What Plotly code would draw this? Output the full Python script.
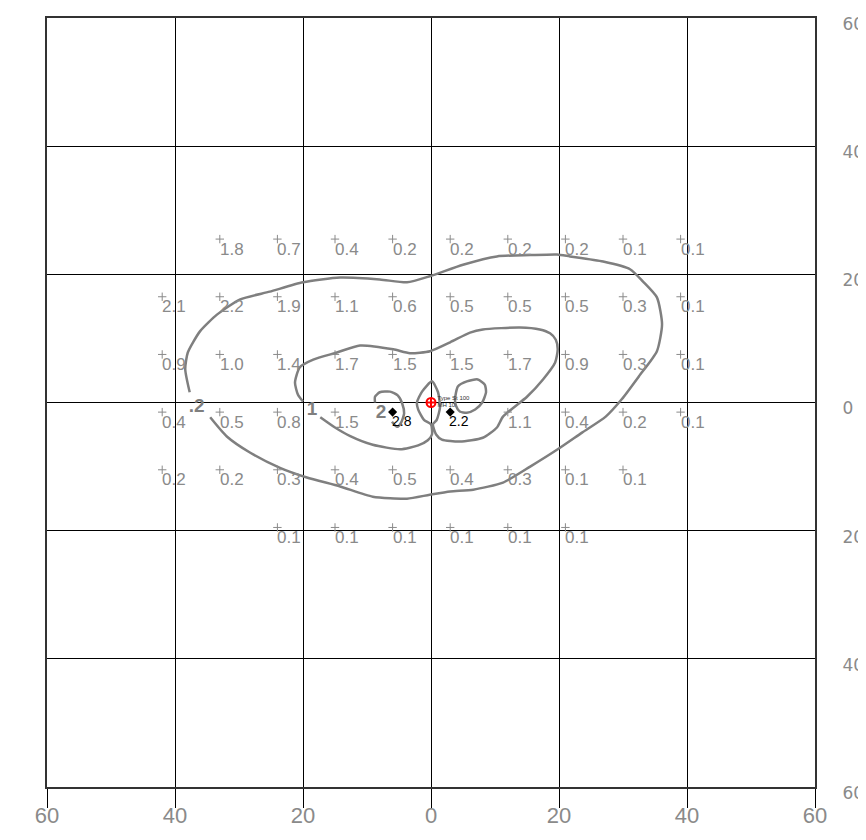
import plotly.graph_objects as go

# ---- grid of sampled values ----
grid_x = [-42, -33, -24, -15, -6, 3, 12, 21, 30, 39]
grid_y = [25.5, 16.5, 7.5, -1.5, -10.5, -19.5]
row_25 = [None, 1.8, 0.7, 0.4, 0.2, 0.2, 0.2, 0.2, 0.1, 0.1]
row_16 = [2.1, 2.2, 1.9, 1.1, 0.6, 0.5, 0.5, 0.5, 0.3, 0.1]
row_7 = [0.9, 1.0, 1.4, 1.7, 1.5, 1.5, 1.7, 0.9, 0.3, 0.1]
row_m1 = [0.4, 0.5, 0.8, 1.5, None, None, 1.1, 0.4, 0.2, 0.1]
row_m10 = [0.2, 0.2, 0.3, 0.4, 0.5, 0.4, 0.3, 0.1, 0.1, None]
row_m19 = [None, None, 0.1, 0.1, 0.1, 0.1, 0.1, 0.1, None, None]
rows = [row_25, row_16, row_7, row_m1, row_m10, row_m19]

# highlighted maxima
peak_x = [-6, 3]
peak_y = [-1.5, -1.5]
peak_vals = [2.8, 2.2]

# source
src_x = [0]
src_y = [0]
src_lines = ["Type St 100", "MH 10"]
src_text_y = [0.6, -0.5]

# ---- contour lines ----
c02_x = [-34.5, -31.9, -28.3, -23.6, -19.4, -14.2, -9.1, -3.75, -0.2, 3.0, 6.6, 11.25, 15.5, 19.8,
         23.6, 27.3, 29.8, 32.5, 35.3, 36.1, 35.3, 33.1, 31.1, 26.9, 21.7, 19.7, 15.5, 10.3, 5.0,
         -0.2, -3.75, -8.0, -14.2, -20.0, -25.2, -29.8, -33.4, -36.1, -38.0, -38.4, -37.7]
c02_y = [-2.3, -5.3, -7.8, -10.2, -11.7, -13.1, -14.7, -15.0, -14.4, -13.9, -13.6, -12.5, -10.0, -7.3,
         -4.7, -2.2, 0.5, 4.1, 8.0, 12.2, 16.4, 18.9, 20.8, 22.0, 22.8, 23.1, 23.0, 22.8, 21.5,
         19.7, 18.75, 19.2, 19.5, 18.75, 17.3, 16.1, 13.75, 11.1, 7.8, 5.2, 1.6]

c1_x = [-17.3, -15.0, -12.7, -9.1, -4.8, -2.0, -0.5, 0.15, 0.0, -1.1, -2.0, -2.2, -1.4, 0.15,
        1.1, 1.4, 0.9, 0.3, 0.8, 1.7, 4.5, 8.1, 10.3, 11.25, 15.0, 17.5, 19.4, 19.8, 19.5, 18.6,
        17.0, 13.9, 8.1, 6.1, 3.0, -0.15, -3.3, -5.9, -11.1, -14.7, -18.4, -20.5, -21.25, -20.8, -20.0]
c1_y = [-2.3, -3.9, -5.2, -6.6, -7.3, -6.7, -5.9, -5.0, -3.4, -2.7, -1.1, 0.0, 1.7, 3.3,
        1.6, -0.8, -2.7, -3.4, -5.0, -5.8, -6.1, -5.5, -3.9, -2.2, 0.9, 3.6, 6.25, 8.3, 9.8, 10.8,
        11.4, 11.7, 11.4, 10.9, 9.4, 8.0, 7.7, 8.3, 8.9, 7.8, 6.7, 5.5, 3.1, 1.25, 0.15]

c2a_x = [-8.75, -8.75, -8.0, -6.4, -5.2, -4.5, -4.2, -4.7, -5.3, -6.1]
c2a_y = [0.0, 0.9, 1.6, 1.7, 1.1, -0.15, -1.7, -3.2, -3.8, -3.0]

c2b_x = [3.75, 4.2, 5.6, 7.3, 8.4, 8.6, 8.0, 6.9, 5.6, 4.5, 3.9, 3.75]
c2b_y = [0.5, 2.5, 3.3, 3.6, 2.8, 1.6, 0.0, -1.1, -1.6, -1.4, -0.5, 0.5]

clabel_x = [-36.6, -18.6, -7.8]
clabel_y = [-0.8, -1.25, -1.7]
clabel_text = [".2", "1", "2"]

# ---- axis ticks ----
tick_vals = [-60, -40, -20, 0, 20, 40, 60]
tick_text = ["60", "40", "20", "0", "20", "40", "60"]

GRAY = "#8a8a8a"
LINE = "#7f7f7f"

fig = go.Figure()

for cx, cy in [(c02_x, c02_y), (c1_x, c1_y), (c2a_x, c2a_y), (c2b_x, c2b_y)]:
    fig.add_trace(go.Scatter(x=cx, y=cy, mode="lines",
                             line=dict(color=LINE, width=2.5, shape="spline", smoothing=0.6),
                             hoverinfo="skip"))

px_, py_, pt_ = [], [], []
for yv, row in zip(grid_y, rows):
    for xv, v in zip(grid_x, row):
        if v is None:
            continue
        px_.append(xv)
        py_.append(yv)
        pt_.append(f"{v:.1f}")

fig.add_trace(go.Scatter(x=px_, y=py_, mode="markers",
                         marker=dict(symbol="cross-thin", size=6, line=dict(color=GRAY, width=1))))

annotations = []
for xv, yv, t in zip(px_, py_, pt_):
    annotations.append(dict(x=xv, y=yv, xref="x", yref="y", text=t, showarrow=False,
                            xanchor="left", yanchor="middle", xshift=-2, yshift=-10,
                            font=dict(family="Liberation Sans", size=17, color=GRAY)))

fig.add_trace(go.Scatter(x=peak_x, y=peak_y, mode="markers",
                         marker=dict(symbol="diamond", size=7, color="black")))
for xv, yv, v in zip(peak_x, peak_y, peak_vals):
    annotations.append(dict(x=xv, y=yv, xref="x", yref="y", text=f"{v:.1f}", showarrow=False,
                            xanchor="left", yanchor="middle", xshift=-3, yshift=-9,
                            font=dict(family="Liberation Sans", size=14, color="black")))

fig.add_trace(go.Scatter(x=clabel_x, y=clabel_y, mode="text", text=clabel_text,
                         textposition="middle center",
                         textfont=dict(family="Liberation Sans", size=19, color=LINE, weight="bold")))

fig.add_trace(go.Scatter(x=src_x, y=src_y, mode="markers",
                         marker=dict(symbol="circle-cross-open", size=9, color="red",
                                     line=dict(color="red", width=2))))
fig.add_trace(go.Scatter(x=[1.0, 1.0], y=src_text_y, mode="text", text=src_lines,
                         textposition="middle right",
                         textfont=dict(family="Liberation Sans", size=6, color="#333")))

fig.update_layout(
    width=858, height=832,
    margin=dict(l=39, r=51, t=10, b=53, autoexpand=False),
    paper_bgcolor="white", plot_bgcolor="white",
    showlegend=False,
    annotations=annotations,
    xaxis=dict(range=[-60, 60], tickvals=tick_vals, ticktext=tick_text, automargin=False,
               showgrid=True, gridcolor="black", gridwidth=1, zeroline=False,
               showline=True, mirror=True, linecolor="#333", linewidth=2,
               ticks="outside", ticklen=19, tickcolor="black", tickwidth=1,
               ticklabelstandoff=-11,
               tickfont=dict(family="Liberation Sans", size=22, color=GRAY)),
    yaxis=dict(range=[-60, 60], tickvals=tick_vals, ticktext=tick_text, side="right",
               automargin=False,
               showgrid=True, gridcolor="black", gridwidth=1, zeroline=False,
               showline=True, mirror=True, linecolor="#333", linewidth=2,
               ticks="", ticklabelstandoff=22, ticklabelshift=6,
               tickfont=dict(family="DejaVu Sans", size=17, color=GRAY)),
)

fig.write_html("out.html")
